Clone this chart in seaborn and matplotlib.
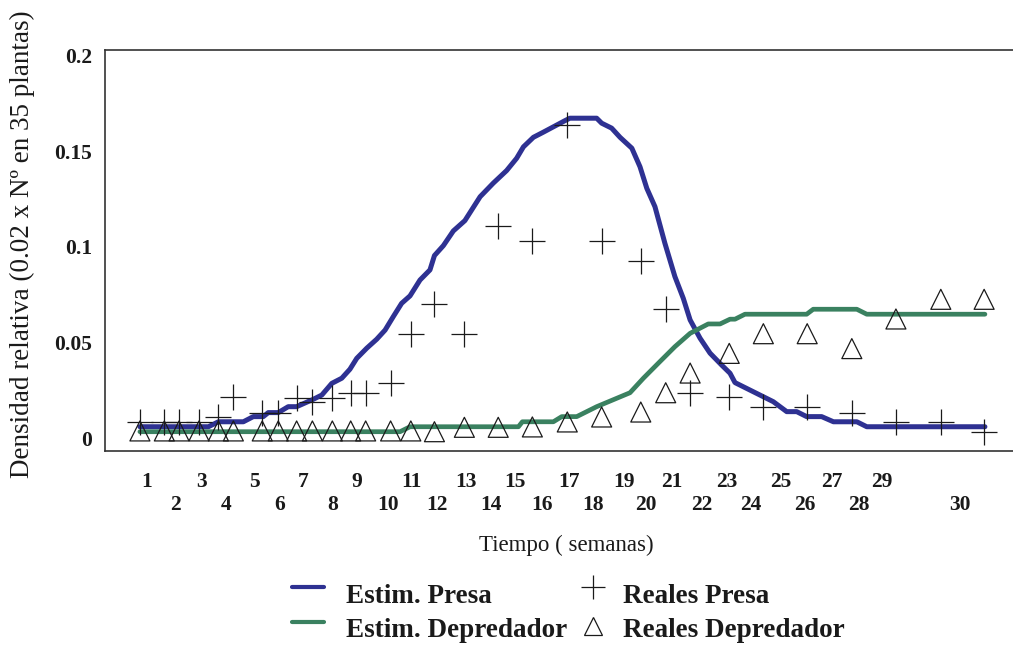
import numpy as np
import pandas as pd
import matplotlib
matplotlib.use("Agg")
import matplotlib.pyplot as plt
from matplotlib.lines import Line2D
from matplotlib.legend_handler import HandlerLine2D
import seaborn as sns

# Estimated (model) curves: week, relative density
est_week_presa = [0.73, 3.34, 3.72, 4.67, 5.05, 5.43, 5.62, 6.00, 6.38, 6.70,
                  7.34, 7.66, 8.04, 8.42, 8.73, 8.99, 9.37, 9.75, 10.07, 10.38,
                  10.70, 11.02, 11.40, 11.78, 11.95, 12.29, 12.67, 13.11, 13.69, 14.19,
                  14.70, 15.08, 15.34, 15.72, 16.10, 16.92, 17.11, 18.13, 18.32, 18.70,
                  19.02, 19.47, 19.78, 20.04, 20.35, 20.73, 21.11, 21.43, 21.69, 22.07,
                  22.45, 22.89, 23.21, 23.40, 24.86, 25.37, 25.75, 26.13, 26.70, 27.15,
                  28.04, 28.42, 32.92]
est_presa = [0.0059, 0.0059, 0.0085, 0.0085, 0.0112, 0.0112, 0.0133, 0.0133, 0.0164, 0.0164,
             0.0203, 0.0225, 0.0286, 0.0313, 0.0360, 0.0417, 0.0470, 0.0517, 0.0565, 0.0635,
             0.0705, 0.0744, 0.0827, 0.0880, 0.0955, 0.1007, 0.1084, 0.1138, 0.1263, 0.1334,
             0.1400, 0.1464, 0.1524, 0.1574, 0.1601, 0.1661, 0.1674, 0.1674, 0.1648, 0.1622,
             0.1574, 0.1517, 0.1420, 0.1307, 0.1211, 0.1019, 0.0845, 0.0731, 0.0618, 0.0522,
             0.0444, 0.0382, 0.0339, 0.0290, 0.0190, 0.0138, 0.0138, 0.0112, 0.0112, 0.0085,
             0.0085, 0.0059, 0.0059]

est_week_depredador = [0.73, 10.64, 11.02, 15.15, 15.30, 16.48, 16.80, 17.37, 18.13, 19.40,
                       19.91, 20.54, 21.11, 21.69, 22.38, 22.83, 23.21, 23.40, 23.78, 26.13,
                       26.38, 28.04, 28.42, 32.92]
est_depredador = [0.0033, 0.0033, 0.0059, 0.0059, 0.0085, 0.0085, 0.0112, 0.0112, 0.0164, 0.0237,
                  0.0313, 0.0400, 0.0478, 0.0548, 0.0597, 0.0597, 0.0622, 0.0622, 0.0648, 0.0648,
                  0.0674, 0.0674, 0.0648, 0.0648]

# Field samples
sample_week = [0.73, 1.66, 2.22, 2.98, 3.72, 4.29, 5.39, 6.00, 6.70, 7.30,
               8.06, 8.76, 9.33, 10.28, 11.05, 11.95, 13.09, 14.38, 15.68, 17.01,
               18.32, 19.81, 20.76, 21.69, 23.18, 24.48, 26.15, 27.85, 29.53, 31.24,
               32.89]
obs_presa = [0.0085, 0.0085, 0.0085, 0.0085, 0.0112, 0.0213, 0.0132, 0.0132, 0.0211, 0.0190,
             0.0211, 0.0237, 0.0237, 0.0290, 0.0543, 0.0702, 0.0543, 0.1110, 0.1031, 0.1640,
             0.1031, 0.0928, 0.0674, 0.0237, 0.0213, 0.0164, 0.0164, 0.0132, 0.0085, 0.0085,
             0.0033]
obs_depredador = [0.0037, 0.0037, 0.0037, 0.0037, 0.0037, 0.0037, 0.0037, 0.0037, 0.0037, 0.0037,
                  0.0037, 0.0037, 0.0037, 0.0037, 0.0037, 0.0033, 0.0056, 0.0056, 0.0058, 0.0084,
                  0.0110, 0.0136, 0.0237, 0.0340, 0.0443, 0.0546, 0.0546, 0.0468, 0.0623, 0.0726,
                  0.0726]

# Week labels along the time axis
week_label_pos = [1.00, 2.10, 3.06, 4.01, 5.11, 6.06, 6.94, 8.09, 9.00, 10.18,
                  11.06, 12.05, 13.15, 14.10, 15.02, 16.05, 17.08, 17.99, 19.17, 20.01,
                  21.00, 22.14, 23.10, 24.01, 25.15, 26.06, 27.10, 28.10, 29.00, 31.97]
week_labels = ["1", "2", "3", "4", "5", "6", "7", "8", "9", "10",
               "11", "12", "13", "14", "15", "16", "17", "18", "19", "20",
               "21", "22", "23", "24", "25", "26", "27", "28", "29", "30"]

y_ticks = [0, 0.05, 0.1, 0.15, 0.2]
y_tick_labels = ["0", "0.05", "0.1", "0.15", "0.2"]

BLUE = "#2e3192"
GREEN = "#3a8160"
INK = "#1a1a1a"

sns.set_theme(style="white")
plt.rcParams["font.family"] = ["Liberation Serif", "DejaVu Serif"]

df_presa = pd.DataFrame({"semana": est_week_presa, "densidad": est_presa})
df_depr = pd.DataFrame({"semana": est_week_depredador, "densidad": est_depredador})
df_obs = pd.DataFrame({"semana": sample_week, "presa": obs_presa, "depredador": obs_depredador})

W, H = 1013, 650
fig = plt.figure(figsize=(W / 100, H / 100), dpi=100)
ax = fig.add_axes([105 / W, 1 - 451 / H, 908 / W, 401 / H])

sns.lineplot(data=df_presa, x="semana", y="densidad", color=BLUE, linewidth=3.6,
             estimator=None, sort=False, ax=ax, zorder=2)
sns.lineplot(data=df_depr, x="semana", y="densidad", color=GREEN, linewidth=3.4,
             estimator=None, sort=False, ax=ax, zorder=2)
sns.scatterplot(data=df_obs, x="semana", y="presa", marker="+", s=340,
                color=INK, linewidth=0.9, ax=ax, zorder=4)
sns.scatterplot(data=df_obs, x="semana", y="depredador", marker="^", s=207,
                color=INK, linewidth=0.9, ax=ax, zorder=4)
tri = ax.collections[-1]
tri.set_facecolor("none")
tri.set_edgecolor(INK)

ax.set_xlim(-0.6, 33.99)
ax.set_ylim(-0.0068, 0.2031)

# x labels alternate between two rows
ax.set_xticks(week_label_pos)
ax.set_xticklabels([lab if i % 2 == 0 else "\n" + lab for i, lab in enumerate(week_labels)],
                   fontsize=15.5, fontweight="bold", linespacing=1.2)
ax.set_yticks(y_ticks)
ax.set_yticklabels(y_tick_labels, fontsize=15.5, fontweight="bold")
ax.tick_params(axis="x", length=0, pad=15, colors=INK)
ax.tick_params(axis="y", length=0, pad=9.4, colors=INK)

for side in ("left", "top", "bottom"):
    ax.spines[side].set_color("#333333")
    ax.spines[side].set_linewidth(1.2)
ax.spines["right"].set_visible(False)

ax.set_ylabel("Densidad relativa (0.02 x Nº en 35 plantas)", fontsize=19.5, va="center", color=INK)
ax.yaxis.set_label_coords((22 - 105) / 908, (451 - 244.5) / 401)
ax.set_xlabel("Tiempo ( semanas)", fontsize=16.5, va="center", color=INK)
ax.xaxis.set_label_coords((566.5 - 105) / 908, (451 - 545) / 401)


class ShiftedHandler(HandlerLine2D):
    """Line/marker legend key drawn with an offset (points)."""

    def __init__(self, dx=0.0, dy=0.0, **kw):
        super().__init__(**kw)
        self.dx, self.dy = dx, dy

    def create_artists(self, legend, orig_handle, xdescent, ydescent, width, height,
                       fontsize, trans):
        arts = super().create_artists(legend, orig_handle, xdescent, ydescent, width,
                                      height, fontsize, trans)
        for a in arts:
            a.set_xdata(np.asarray(a.get_xdata(), dtype=float) + self.dx)
            a.set_ydata(np.asarray(a.get_ydata(), dtype=float) + self.dy)
        return arts


h_est_presa = Line2D([], [], color=BLUE, linewidth=3.0, solid_capstyle="round")
h_est_depr = Line2D([], [], color=GREEN, linewidth=3.0, solid_capstyle="round")
h_obs_presa = Line2D([], [], linestyle="none", marker="+", markersize=17,
                     markeredgewidth=0.9, color=INK)
h_obs_depr = Line2D([], [], linestyle="none", marker="^", markersize=13.5,
                    markerfacecolor="none", markeredgecolor=INK, markeredgewidth=0.9)

leg = ax.legend(
    handles=[h_est_presa, h_est_depr, h_obs_presa, h_obs_depr],
    labels=["Estim. Presa", "Estim. Depredador", "Reales Presa", "Reales Depredador"],
    ncol=2, loc="upper left", bbox_to_anchor=(291.7 / W, 1 - 584 / H),
    bbox_transform=fig.transFigure, frameon=False, borderpad=0, borderaxespad=0,
    handlelength=1.2, handletextpad=0.8, columnspacing=0.07, labelspacing=0.32,
    prop={"weight": "bold", "size": 19.5},
    handler_map={
        h_est_presa: ShiftedHandler(dy=5.0),
        h_est_depr: ShiftedHandler(dy=3.5),
        h_obs_presa: ShiftedHandler(dx=5.5, dy=5.0),
        h_obs_depr: ShiftedHandler(dx=5.5, dy=0.5),
    },
)
for t in leg.get_texts():
    t.set_color(INK)

fig.savefig("out.png", dpi=100)
